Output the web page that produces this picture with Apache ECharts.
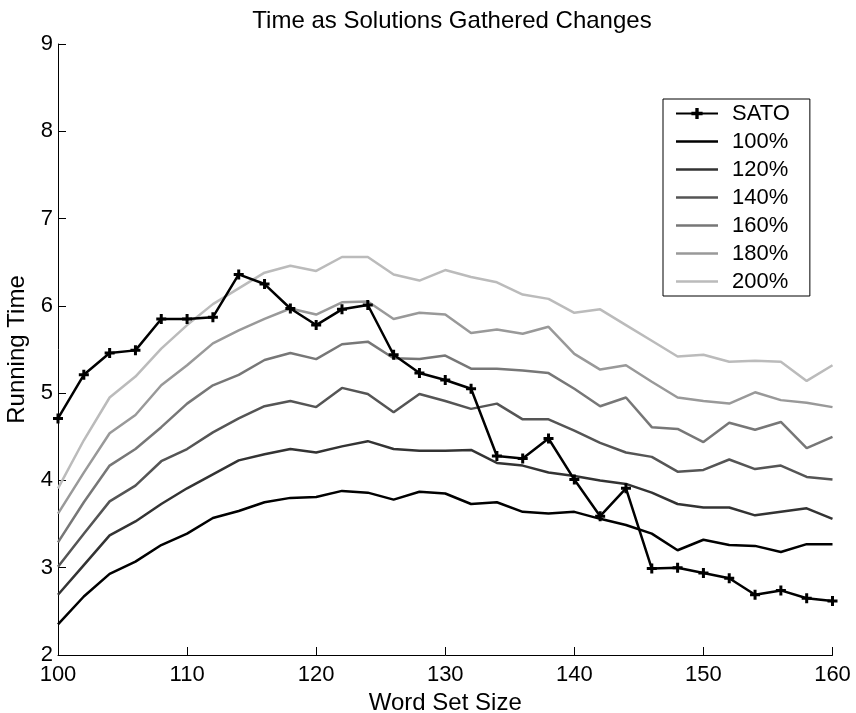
<!DOCTYPE html>
<html>
<head>
<meta charset="utf-8">
<title>Time as Solutions Gathered Changes</title>
<script src="https://cdn.jsdelivr.net/npm/echarts@6/dist/echarts.min.js"></script>
<style>
  html, body { margin: 0; padding: 0; background: #fff; }
  #chart { width: 856px; height: 713px; }
</style>
</head>
<body>
<div id="chart"></div>
<script>
// Word set sizes (x axis)
const wordSetSize = [100, 102, 104, 106, 108, 110, 112, 114, 116, 118,
                     120, 122, 124, 126, 128, 130, 132, 134, 136, 138,
                     140, 142, 144, 146, 148, 150, 152, 154, 156, 158,
                     160];

// Running times per configuration
const sato = [4.71, 5.21, 5.46, 5.49, 5.85, 5.85, 5.87, 6.36, 6.25, 5.97,
              5.78, 5.96, 6.01, 5.44, 5.23, 5.15, 5.05, 4.28, 4.25, 4.48,
              4.01, 3.59, 3.91, 2.99, 3.00, 2.94, 2.88, 2.69, 2.74, 2.65,
              2.62];
const pct100 = [2.35, 2.67, 2.93, 3.07, 3.26, 3.39, 3.57, 3.65, 3.75, 3.80,
                3.81, 3.88, 3.86, 3.78, 3.87, 3.85, 3.73, 3.75, 3.64, 3.62,
                3.64, 3.56, 3.49, 3.39, 3.20, 3.32, 3.26, 3.25, 3.18, 3.27,
                3.27];
const pct120 = [2.69, 3.03, 3.37, 3.53, 3.73, 3.91, 4.07, 4.23, 4.30, 4.36,
                4.32, 4.39, 4.45, 4.36, 4.34, 4.34, 4.35, 4.20, 4.17, 4.09,
                4.05, 4.00, 3.96, 3.86, 3.73, 3.69, 3.69, 3.60, 3.64, 3.68,
                3.56];
const pct140 = [3.01, 3.39, 3.76, 3.94, 4.22, 4.36, 4.55, 4.71, 4.85, 4.91,
                4.84, 5.06, 4.99, 4.78, 4.99, 4.91, 4.82, 4.88, 4.70, 4.70,
                4.57, 4.43, 4.32, 4.27, 4.10, 4.12, 4.24, 4.13, 4.17, 4.04,
                4.01];
const pct160 = [3.29, 3.75, 4.17, 4.36, 4.61, 4.88, 5.09, 5.21, 5.38, 5.46,
                5.39, 5.56, 5.59, 5.40, 5.39, 5.43, 5.28, 5.28, 5.26, 5.23,
                5.05, 4.85, 4.95, 4.61, 4.59, 4.44, 4.66, 4.58, 4.67, 4.37,
                4.50];
const pct180 = [3.62, 4.09, 4.54, 4.75, 5.09, 5.32, 5.57, 5.72, 5.85, 5.97,
                5.90, 6.04, 6.05, 5.85, 5.92, 5.90, 5.69, 5.73, 5.68, 5.76,
                5.45, 5.27, 5.32, 5.13, 4.95, 4.91, 4.88, 5.01, 4.92, 4.89,
                4.84];
const pct200 = [3.91, 4.46, 4.95, 5.19, 5.51, 5.78, 6.02, 6.20, 6.38, 6.46,
                6.40, 6.56, 6.56, 6.36, 6.29, 6.41, 6.33, 6.27, 6.13, 6.08,
                5.92, 5.96, 5.78, 5.60, 5.42, 5.44, 5.36, 5.37, 5.36, 5.14,
                5.32];

const seriesNames = ['SATO', '100%', '120%', '140%', '160%', '180%', '200%'];
const seriesValues = [sato, pct100, pct120, pct140, pct160, pct180, pct200];
const seriesColors = ['#000000', '#000000', '#333333', '#555555', '#777777', '#999999', '#bbbbbb'];

const FONT = '"Liberation Sans", Arial, Helvetica, sans-serif';
const LINE_W = 2.5;
const plusSymbol = 'path://M3.5,0H6.5V3.5H10V6.5H6.5V10H3.5V6.5H0V3.5H3.5Z';
// plain stroke for the legend: a bar centred in a 42x14 box (tiny corner specks fix the box)
const legendBar = 'path://M0,0H0.05V0.05H0Z M0,5.75H42V8.25H0Z M41.95,13.95H42V14H41.95Z';

const pairs = vals => wordSetSize.map((x, i) => [x, vals[i]]);

const series = seriesNames.map((name, k) => ({
  name: name,
  type: 'line',
  data: pairs(seriesValues[k]),
  symbol: k === 0 ? plusSymbol : 'none',
  symbolSize: 10,
  showSymbol: k === 0,
  // SATO on top, darker percentages above lighter ones
  z: k === 0 ? 10 : 9 - k,
  lineStyle: { color: seriesColors[k], width: LINE_W },
  itemStyle: { color: seriesColors[k] },
  emphasis: { disabled: true },
  animation: false
}));

const legendData = seriesNames.map((name, k) => k === 0
  ? { name: name }
  : { name: name, icon: legendBar, itemStyle: { color: seriesColors[k] } });

const chart = echarts.init(document.getElementById('chart'), null, { renderer: 'canvas' });
chart.setOption({
  backgroundColor: '#ffffff',
  animation: false,
  title: {
    text: 'Time as Solutions Gathered Changes',
    left: 447,
    textAlign: 'center',
    top: 4,
    textStyle: { fontFamily: FONT, fontSize: 24, fontWeight: 'normal', color: '#000' }
  },
  grid: {
    left: 58, right: 23.5, top: 44, bottom: 58,
    containLabel: false,
    outerBoundsMode: 'none'
  },
  legend: {
    data: legendData,
    orient: 'vertical',
    left: 663,
    top: 99,
    itemWidth: 42,
    itemHeight: 14,
    itemGap: 6,
    padding: [3.5, 20, 3.5, 12],
    backgroundColor: '#ffffff',
    borderColor: '#000000',
    borderWidth: 1,
    borderRadius: 0,
    selectedMode: false,
    textStyle: { fontFamily: FONT, fontSize: 22, color: '#000', lineHeight: 22, padding: [0, 0, 0, 9] }
  },
  xAxis: {
    type: 'value',
    min: 100, max: 160, interval: 10,
    name: 'Word Set Size',
    nameLocation: 'middle',
    nameGap: 34,
    nameTextStyle: { fontFamily: FONT, fontSize: 24, color: '#000' },
    axisLine: { show: true, onZero: false, lineStyle: { color: '#000', width: 1 } },
    axisTick: { show: true, inside: true, length: 8, lineStyle: { color: '#000' } },
    axisLabel: { fontFamily: FONT, fontSize: 22, color: '#000', margin: 9 },
    splitLine: { show: false }
  },
  yAxis: {
    type: 'value',
    min: 2, max: 9, interval: 1,
    name: 'Running Time',
    nameLocation: 'middle',
    nameGap: 19,
    nameTextStyle: { fontFamily: FONT, fontSize: 24, color: '#000' },
    axisLine: { show: true, onZero: false, lineStyle: { color: '#000', width: 1 } },
    axisTick: { show: true, inside: true, length: 8, lineStyle: { color: '#000' } },
    axisLabel: { fontFamily: FONT, fontSize: 22, color: '#000', margin: 5, padding: [5, 0, 0, 0] },
    splitLine: { show: false }
  },
  series: series
});
</script>
</body>
</html>
